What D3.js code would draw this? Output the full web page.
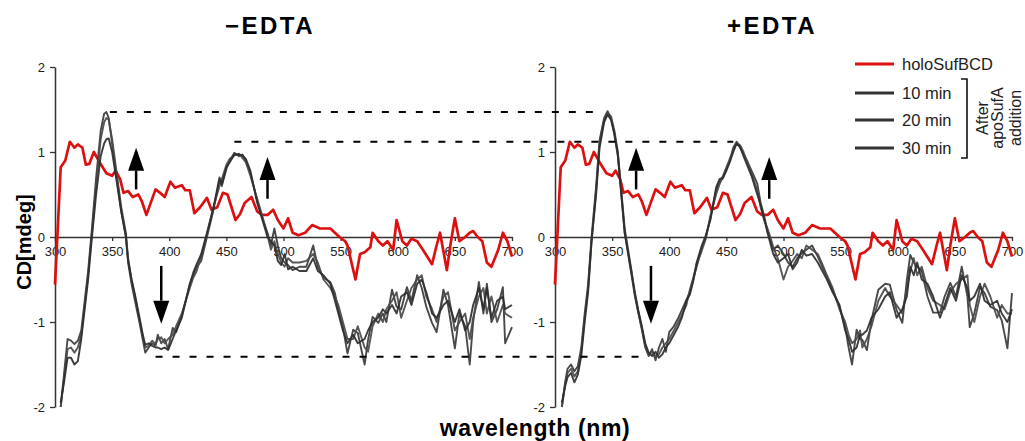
<!DOCTYPE html>
<html>
<head>
<meta charset="utf-8">
<script src="https://cdn.jsdelivr.net/npm/d3@7"></script>
<style>
  html, body { margin: 0; padding: 0; background: #fff; }
  svg { display: block; font-family: "Liberation Sans", Arial, Helvetica, sans-serif; }
</style>
</head>
<body>
<svg id="chart" width="1025" height="441"></svg>
<script>
// ---------------- DATA ----------------
const panelTitles = ["\u2212EDTA", "+EDTA"];
const xTicks = [300, 350, 400, 450, 500, 550, 600, 650, 700];
const yTicks = [-2, -1, 0, 1, 2];
const legendLabels = ["holoSufBCD", "10 min", "20 min", "30 min"];
const bracketLabel = ["After", "apoSufA", "addition"];

// holoSufBCD spectrum [nm, mdeg]
const holoSufBCD = [
  [300,-0.56],[305,0.82],[309,0.9],[313,1.12],[317,1.05],[320,1.09],[324,1.05],[327,0.85],[330,0.86],
  [334,1.0],[339,0.88],[345,0.75],[350,0.72],[353,0.78],[357,0.68],[360,0.52],[364,0.54],[368,0.47],
  [373,0.5],[376,0.42],[380,0.26],[388,0.56],[392,0.52],[396,0.47],[401,0.65],[405,0.58],[411,0.61],
  [414,0.55],[418,0.55],[422,0.28],[427,0.35],[433,0.46],[437,0.32],[442,0.35],[447,0.52],[451,0.5],
  [458,0.2],[462,0.27],[466,0.4],[472,0.47],[477,0.3],[481,0.26],[486,0.26],[491,0.32],[495,0.2],
  [500,0.1],[504,0.22],[508,0.05],[513,0.02],[519,0.05],[525,0.14],[532,0.1],[541,0.1],[549,0.0],
  [554,-0.05],[556,-0.1],[563,-0.5],[567,-0.2],[571,-0.18],[576,-0.12],[578,0.05],[583,-0.05],
  [587,-0.1],[591,-0.05],[596,-0.15],[599,0.2],[604,-0.05],[608,-0.1],[612,-0.02],[617,-0.05],
  [622,-0.15],[630,-0.32],[634,-0.1],[637,0.05],[643,-0.39],[646,-0.1],[650,0.22],[654,-0.05],
  [659,0.0],[663,0.05],[666,0.07],[670,0.0],[674,-0.05],[678,-0.3],[682,-0.35],[688,-0.15],
  [692,0.05],[696,-0.05],[700,-0.23]
];

// -EDTA panel: wavelength grid and the three time points
const nmMinus = [305,308,311,314,317,320,323,326,329,332,336,340,343,345,347,350,354,358,362,364,367,370,
  374,377,379,382,385,388,390,393,396,399,403,406,411,418,421,424,428,433,438,444,446,450,453,457,461,464,
  467,471,477,482,486,489,492,495,498,501,504,508,514,520,526,530,535,541,545,548,552,556,561,565,571,574,
  578,583,587,590,595,599,603,608,612,617,621,625,630,634,640,644,650,654,659,663,666,671,675,678,682,687,
  692,694,700];
const minus10 = [-2.0,-1.6,-1.2,-1.22,-1.26,-1.22,-1.1,-0.75,-0.4,0.05,0.7,1.25,1.45,1.47,1.4,1.1,0.7,0.3,
  0.0,-0.3,-0.55,-0.75,-1.01,-1.22,-1.36,-1.3,-1.25,-1.28,-1.15,-1.25,-1.2,-1.32,-1.07,-1.12,-0.92,-0.56,
  -0.45,-0.35,-0.28,0.0,0.28,0.67,0.6,0.8,0.9,0.99,0.95,0.97,0.9,0.75,0.43,0.2,0.05,-0.1,0.1,-0.1,-0.25,
  -0.3,-0.33,-0.39,-0.35,-0.35,-0.1,-0.35,-0.48,-0.53,-0.66,-0.86,-1.06,-1.37,-1.09,-1.13,-1.5,-1.21,
  -0.94,-1.01,-0.9,-1.0,-0.62,-0.82,-0.85,-0.59,-0.75,-0.45,-0.6,-0.82,-1.01,-1.12,-0.62,-0.8,-1.31,
  -0.9,-1.05,-1.5,-1.0,-0.53,-0.9,-0.55,-1.0,-0.85,-0.59,-1.25,-1.06];
const minus20 = [-2.0,-1.65,-1.32,-1.3,-1.36,-1.3,-1.15,-0.8,-0.45,0.0,0.6,1.15,1.35,1.4,1.38,1.15,0.75,0.35,
  0.05,-0.25,-0.5,-0.7,-0.98,-1.18,-1.3,-1.28,-1.22,-1.26,-1.2,-1.18,-1.25,-1.2,-1.15,-1.05,-0.9,-0.6,
  -0.48,-0.4,-0.22,0.03,0.32,0.6,0.68,0.85,0.92,0.96,0.98,0.93,0.88,0.72,0.45,0.22,0.02,-0.15,-0.05,-0.2,
  -0.3,-0.35,-0.25,-0.3,-0.3,-0.28,-0.2,-0.3,-0.5,-0.6,-0.7,-0.8,-1.0,-1.2,-1.2,-1.05,-1.3,-1.35,
  -1.05,-0.9,-1.0,-0.85,-0.75,-0.65,-0.95,-0.75,-0.6,-0.5,-0.45,-0.7,-0.85,-1.0,-0.7,-0.65,-1.1,
  -1.0,-0.9,-1.2,-0.95,-0.7,-0.6,-0.9,-0.7,-1.0,-0.8,-0.9,-0.95];
const minus30 = [-1.95,-1.7,-1.42,-1.42,-1.5,-1.46,-1.2,-0.85,-0.5,-0.05,0.5,0.95,1.1,1.15,1.16,1.0,0.65,0.3,
  0.02,-0.28,-0.5,-0.68,-0.95,-1.16,-1.27,-1.25,-1.28,-1.3,-1.3,-1.32,-1.3,-1.33,-1.2,-1.1,-0.95,-0.55,
  -0.42,-0.32,-0.2,0.05,0.3,0.7,0.62,0.82,0.88,0.97,0.97,0.96,0.92,0.78,0.4,0.18,0.0,-0.05,-0.1,-0.28,
  -0.33,-0.2,-0.38,-0.35,-0.4,-0.4,-0.25,-0.4,-0.45,-0.55,-0.75,-0.9,-1.1,-1.25,-1.15,-1.25,-1.2,-1.1,
  -1.0,-0.95,-0.85,-0.9,-0.8,-0.9,-0.7,-0.65,-0.8,-0.55,-0.5,-0.65,-0.9,-0.95,-0.8,-0.75,-1.0,
  -0.85,-1.1,-1.0,-0.8,-0.6,-0.85,-0.6,-0.95,-0.75,-0.7,-0.85,-0.8];

// +EDTA panel
const nmPlus = [306,309,311,314,317,320,323,326,329,332,336,339,343,346,349,352,355,358,361,364,367,370,373,
  376,379,382,385,388,391,394,397,400,404,408,411,415,418,421,424,428,432,436,441,444,447,450,453,456,459,
  462,465,468,472,477,480,483,486,489,491,495,500,504,508,512,516,520,525,530,534,538,543,549,554,557,560,
  564,567,569,573,577,583,589,593,599,604,608,611,614,617,621,626,631,637,641,646,651,656,661,663,667,672,
  676,681,687,691,696,700];
const plus10 = [-2.0,-1.7,-1.55,-1.5,-1.58,-1.52,-1.3,-0.9,-0.55,0.0,0.6,1.14,1.4,1.48,1.4,1.2,0.95,0.5,0.05,
  -0.2,-0.45,-0.7,-0.9,-1.09,-1.3,-1.4,-1.32,-1.45,-1.3,-1.2,-1.35,-1.12,-1.05,-0.95,-0.86,-0.74,-0.65,-0.5,
  -0.35,-0.15,0.0,0.22,0.55,0.65,0.69,0.8,0.9,1.05,1.12,1.05,0.98,0.9,0.78,0.63,0.4,0.25,0.07,-0.05,-0.15,
  -0.1,-0.2,-0.3,-0.35,-0.25,-0.19,-0.15,-0.1,-0.23,-0.35,-0.47,-0.62,-0.82,-1.06,-1.3,-1.5,-1.09,-1.2,
  -1.21,-1.33,-0.98,-0.62,-0.55,-0.56,-0.86,-1.01,-0.5,-0.21,-0.3,-0.35,-0.4,-0.7,-0.89,-0.89,-0.7,-0.54,
  -0.7,-0.35,-0.7,-1.06,-0.9,-0.59,-0.66,-0.82,-0.86,-0.98,-1.31,-0.66];
const plus20 = [-2.0,-1.72,-1.6,-1.55,-1.64,-1.58,-1.35,-0.95,-0.6,-0.05,0.55,1.1,1.38,1.46,1.42,1.25,1.0,0.55,
  0.1,-0.15,-0.4,-0.68,-0.88,-1.07,-1.28,-1.38,-1.35,-1.4,-1.38,-1.3,-1.25,-1.2,-1.1,-1.0,-0.92,-0.8,-0.62,
  -0.48,-0.32,-0.18,-0.02,0.25,0.5,0.62,0.72,0.82,0.92,1.02,1.11,1.08,1.0,0.88,0.75,0.55,0.35,0.2,0.1,-0.02,
  -0.12,-0.25,-0.5,-0.35,-0.28,-0.2,-0.25,-0.1,-0.15,-0.2,-0.32,-0.45,-0.6,-0.85,-1.0,-1.15,-1.25,-1.2,-1.1,
  -1.3,-1.2,-1.05,-0.75,-0.6,-0.7,-0.8,-0.9,-0.6,-0.4,-0.25,-0.45,-0.35,-0.6,-0.75,-0.8,-0.85,-0.65,-0.55,
  -0.5,-0.45,-0.8,-1.0,-0.7,-0.55,-0.7,-0.95,-0.8,-0.9,-0.9];
const plus30 = [-1.95,-1.75,-1.65,-1.6,-1.71,-1.62,-1.4,-1.0,-0.65,-0.05,0.5,1.05,1.35,1.44,1.38,1.22,0.98,0.52,
  0.05,-0.18,-0.42,-0.66,-0.87,-1.05,-1.25,-1.36,-1.4,-1.35,-1.42,-1.38,-1.3,-1.25,-1.15,-1.05,-0.95,-0.75,
  -0.68,-0.52,-0.3,-0.12,0.02,0.2,0.58,0.68,0.7,0.78,0.88,1.0,1.1,1.06,0.95,0.85,0.72,0.5,0.38,0.22,0.05,
  -0.1,-0.2,-0.3,-0.25,-0.2,-0.38,-0.3,-0.15,-0.22,-0.2,-0.3,-0.4,-0.5,-0.65,-0.8,-1.1,-1.2,-1.35,-1.3,
  -1.15,-1.15,-1.1,-0.95,-0.85,-0.7,-0.65,-0.95,-0.85,-0.7,-0.35,-0.45,-0.3,-0.5,-0.55,-0.7,-0.95,-0.8,
  -0.6,-0.75,-0.45,-0.6,-0.75,-0.7,-0.55,-0.75,-0.8,-0.75,-0.9,-1.0,-0.85];

// dashed reference levels: [value, nm start (-EDTA panel), nm end (+EDTA panel)]
const dashLevels = [[1.47, 348, 340], [1.12, 457, 456], [-1.41, 388, 379]];
// arrows: [nm, from, to]
const arrowsMinus = [[371, 0.56, 1.05], [486, 0.45, 0.94], [393, -0.34, -1.02]];
const arrowsPlus  = [[371, 0.56, 1.05], [487.5, 0.45, 0.94], [384, -0.34, -1.02]];

// ---------------- CHART ----------------
const svg = d3.select("#chart");
const y = d3.scaleLinear().domain([-2, 2]).range([407, 67]);
const panels = [
  { x: d3.scaleLinear().domain([300, 700]).range([55, 512]), nm: nmMinus, series: [minus10, minus20, minus30], arrows: arrowsMinus, title: panelTitles[0], tx: 270 },
  { x: d3.scaleLinear().domain([300, 700]).range([555, 1012]), nm: nmPlus, series: [plus10, plus20, plus30], arrows: arrowsPlus, title: panelTitles[1], tx: 772 }
];
const gray = ["#3a3a3a", "#4a4a4a", "#2e2e2e"];
const red = "#dd1010";

panels.forEach(p => {
  const g = svg.append("g");
  // axes
  const ya = g.append("g").attr("transform", `translate(${p.x(300)},0)`)
    .call(d3.axisLeft(y).tickValues(yTicks).tickSize(5).tickSizeOuter(0).tickPadding(5).tickFormat(d3.format("d")));
  ya.select(".domain").attr("stroke", "#333").attr("stroke-width", 1.5);
  ya.selectAll(".tick line").attr("stroke", "#333").attr("stroke-width", 1.3);
  ya.selectAll(".tick text").attr("font-size", 13).attr("fill", "#222").attr("font-family", "Liberation Sans, Arial, sans-serif")
    .text(d => d < 0 ? "-" + Math.abs(d) : d);

  const xa = g.append("g").attr("transform", `translate(0,${y(0)})`)
    .call(d3.axisBottom(p.x).tickValues(xTicks).tickSize(4).tickSizeOuter(0).tickFormat(d3.format("d")));
  xa.select(".domain").attr("stroke", "#333").attr("stroke-width", 1.5);
  xa.selectAll(".tick line").attr("stroke", "#333").attr("stroke-width", 1.3);
  xa.selectAll(".tick text").attr("font-size", 13).attr("fill", "#222").attr("y", 10).attr("font-family", "Liberation Sans, Arial, sans-serif");

  // red
  const line = d3.line().x(d => p.x(d[0])).y(d => y(d[1]));
  g.append("path").datum(holoSufBCD).attr("d", line)
    .attr("fill", "none").attr("stroke", red).attr("stroke-width", 2.7).attr("stroke-linejoin", "round");
  // gray series
  p.series.forEach((s, i) => {
    const pts = p.nm.map((n, k) => [n, s[k]]);
    g.append("path").datum(pts).attr("d", line)
      .attr("fill", "none").attr("stroke", gray[i]).attr("stroke-width", 1.9).attr("stroke-linejoin", "round").attr("opacity", 0.92);
  });

  // arrows
  p.arrows.forEach(a => {
    const ax = p.x(a[0]), y0 = y(a[1]), y1 = y(a[2]);
    const dir = y1 < y0 ? -1 : 1;
    const headLen = 23, headW = 8;
    const base = y1 - dir * headLen;
    g.append("line").attr("x1", ax).attr("x2", ax).attr("y1", y0).attr("y2", base)
      .attr("stroke", "#000").attr("stroke-width", 2.5);
    g.append("path").attr("d", `M${ax - headW},${base} L${ax + headW},${base} L${ax},${y1} Z`).attr("fill", "#000");
  });

  // title
  svg.append("text").attr("x", p.tx).attr("y", 34).attr("text-anchor", "middle")
    .attr("font-size", 24).attr("font-weight", "bold").attr("letter-spacing", "2.5px").attr("fill", "#000")
    .text(p.title);
});

// dashed reference lines spanning both panels
dashLevels.forEach(d => {
  svg.append("line")
    .attr("x1", panels[0].x(d[1])).attr("x2", panels[1].x(d[2]))
    .attr("y1", y(d[0])).attr("y2", y(d[0]))
    .attr("stroke", "#000").attr("stroke-width", 2).attr("stroke-dasharray", "7,10");
});

// axis labels
svg.append("text").attr("x", 535).attr("y", 436).attr("text-anchor", "middle")
  .attr("font-size", 23).attr("font-weight", "bold").attr("letter-spacing", "0.6px").attr("fill", "#000").text("wavelength (nm)");
svg.append("text").attr("transform", "translate(31,242) rotate(-90)").attr("text-anchor", "middle")
  .attr("font-size", 20).attr("font-weight", "bold").attr("fill", "#000").text("CD[mdeg]");

// legend
const legY = [64, 93, 120, 148];
const legColors = [red, "#333", "#333", "#333"];
legendLabels.forEach((l, i) => {
  svg.append("line").attr("x1", 855).attr("x2", 894).attr("y1", legY[i]).attr("y2", legY[i])
    .attr("stroke", legColors[i]).attr("stroke-width", 3.2);
  svg.append("text").attr("x", 902).attr("y", legY[i] + 6).attr("font-size", 16.5).attr("fill", "#222").text(l);
});
svg.append("path").attr("d", "M961,79 L967,79 L967,158 L961,158")
  .attr("fill", "none").attr("stroke", "#111").attr("stroke-width", 1.6);
const bx = [988, 1003, 1021];
bracketLabel.forEach((t, i) => {
  svg.append("text").attr("transform", `translate(${bx[i]},118) rotate(-90)`).attr("text-anchor", "middle")
    .attr("font-size", 16).attr("fill", "#222").text(t);
});
</script>
</body>
</html>
